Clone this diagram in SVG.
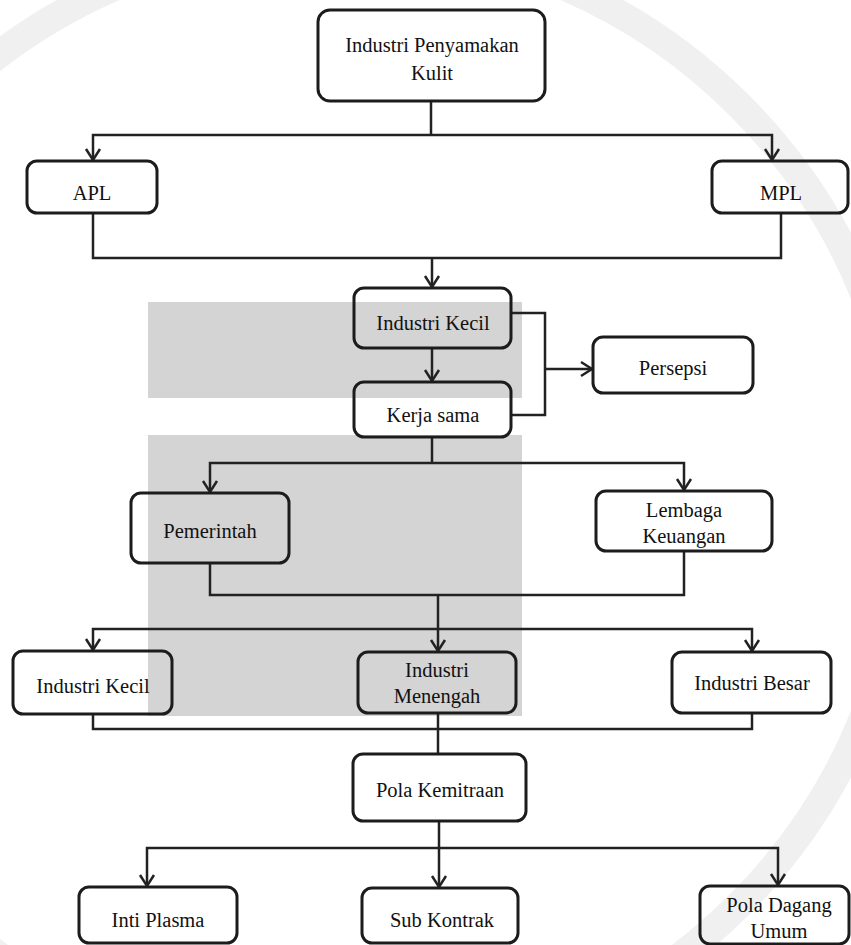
<svg xmlns="http://www.w3.org/2000/svg" width="851" height="945" viewBox="0 0 851 945">
<style>
.box{fill:none;stroke:#1c1c1c;stroke-width:3}
.t{font-family:"Liberation Serif","Times New Roman",serif;font-size:20.5px;fill:#111;text-anchor:middle}
.ln{fill:none;stroke:#222;stroke-width:2.5}
</style>
<defs>
<marker id="ah" viewBox="-14 -10 18 20" refX="0" refY="0" markerWidth="18" markerHeight="20" orient="auto" markerUnits="userSpaceOnUse">
<path d="M-11,-7 L0,0 L-11,7" fill="none" stroke="#222" stroke-width="2.5"/>
</marker>
</defs>
<rect width="851" height="945" fill="#fff"/>
<g id="watermark">
<circle cx="340" cy="505" r="565" fill="none" stroke="#f0f0f0" stroke-width="28"/>
<rect x="148" y="302" width="374" height="96" fill="#d4d4d4"/>
<rect x="148" y="435" width="374" height="281" fill="#d4d4d4"/>
</g>
<g id="connectors">
<path class="ln" d="M431,101 V135"/>
<path class="ln" d="M431,135 H93 V160" marker-end="url(#ah)"/>
<path class="ln" d="M431,135 H772 V160" marker-end="url(#ah)"/>
<path class="ln" d="M93,213 V258 H781 V213"/>
<path class="ln" d="M432,258 V287" marker-end="url(#ah)"/>
<path class="ln" d="M432,348 V381" marker-end="url(#ah)"/>
<path class="ln" d="M511,313 H545 V415 H511"/>
<path class="ln" d="M545,369 H592" marker-end="url(#ah)"/>
<path class="ln" d="M432,437 V463"/>
<path class="ln" d="M432,463 H210 V492" marker-end="url(#ah)"/>
<path class="ln" d="M432,463 H684 V490" marker-end="url(#ah)"/>
<path class="ln" d="M210,563 V595 H684 V551"/>
<path class="ln" d="M438,595 V651" marker-end="url(#ah)"/>
<path class="ln" d="M438,629 H93 V650" marker-end="url(#ah)"/>
<path class="ln" d="M438,629 H752 V651" marker-end="url(#ah)"/>
<path class="ln" d="M93,714 V729 H752 V713"/>
<path class="ln" d="M438,713 V754"/>
<path class="ln" d="M439,821 V848"/>
<path class="ln" d="M439,848 H147 V886" marker-end="url(#ah)"/>
<path class="ln" d="M439,848 H778 V885" marker-end="url(#ah)"/>
<path class="ln" d="M439,848 V887" marker-end="url(#ah)"/>
</g>
<g id="n-industri-penyamakan"><rect class="box" x="318" y="10" width="227" height="91" rx="12"/><text class="t" x="432" y="52">Industri Penyamakan</text><text class="t" x="432" y="80">Kulit</text></g>
<g id="n-apl"><rect class="box" x="27" y="161" width="130" height="52" rx="10"/><text class="t" x="92" y="200">APL</text></g>
<g id="n-mpl"><rect class="box" x="712" y="161" width="136" height="52" rx="10"/><text class="t" x="781" y="200">MPL</text></g>
<g id="n-industri-kecil-1"><rect class="box" x="354" y="288" width="157" height="60" rx="10"/><text class="t" x="433" y="330">Industri Kecil</text></g>
<g id="n-kerja-sama"><rect class="box" x="354" y="382" width="157" height="55" rx="10"/><text class="t" x="433" y="422">Kerja sama</text></g>
<g id="n-persepsi"><rect class="box" x="593" y="337" width="160" height="56" rx="10"/><text class="t" x="673" y="375">Persepsi</text></g>
<g id="n-pemerintah"><rect class="box" x="131" y="493" width="158" height="70" rx="10"/><text class="t" x="210" y="538">Pemerintah</text></g>
<g id="n-lembaga-keuangan"><rect class="box" x="596" y="491" width="176" height="60" rx="10"/><text class="t" x="684" y="517">Lembaga</text><text class="t" x="684" y="543">Keuangan</text></g>
<g id="n-industri-kecil-2"><rect class="box" x="13" y="651" width="159" height="63" rx="10"/><text class="t" x="93" y="693">Industri Kecil</text></g>
<g id="n-industri-menengah"><rect class="box" x="358" y="652" width="158" height="61" rx="10"/><text class="t" x="437" y="677">Industri</text><text class="t" x="437" y="703">Menengah</text></g>
<g id="n-industri-besar"><rect class="box" x="672" y="652" width="159" height="61" rx="10"/><text class="t" x="752" y="690">Industri Besar</text></g>
<g id="n-pola-kemitraan"><rect class="box" x="353" y="754" width="173" height="67" rx="10"/><text class="t" x="440" y="797">Pola Kemitraan</text></g>
<g id="n-inti-plasma"><rect class="box" x="79" y="887" width="158" height="56" rx="10"/><text class="t" x="158" y="927">Inti Plasma</text></g>
<g id="n-sub-kontrak"><rect class="box" x="362" y="888" width="156" height="55" rx="10"/><text class="t" x="442" y="927">Sub Kontrak</text></g>
<g id="n-pola-dagang-umum"><rect class="box" x="700" y="886" width="149" height="58" rx="10"/><text class="t" x="779" y="912">Pola Dagang</text><text class="t" x="779" y="938">Umum</text></g>
</svg>
